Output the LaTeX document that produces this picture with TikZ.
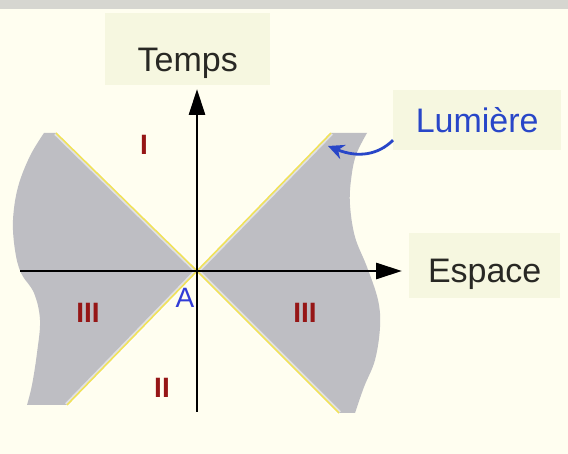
\documentclass[tikz,border=0pt]{standalone}
\usepackage{fontspec}
\setmainfont{Liberation Sans}
\usetikzlibrary{arrows.meta}
\definecolor{bgcream}{RGB}{255,254,240}
\definecolor{topbar}{RGB}{214,214,208}
\definecolor{boxtint}{RGB}{246,247,224}
\definecolor{winggrey}{RGB}{190,190,195}
\definecolor{edgeyellow}{RGB}{240,226,90}
\definecolor{textdark}{RGB}{40,40,36}
\definecolor{lumblue}{RGB}{40,70,200}
\definecolor{ablue}{RGB}{50,60,215}
\definecolor{numred}{RGB}{150,22,22}

\begin{document}
\begin{tikzpicture}[
    x=1pt, y=-1pt,
    labelbox/.style={fill=boxtint, inner xsep=0pt, inner ysep=0pt, anchor=north west,
        font=\fontsize{34}{40}\selectfont},
    numstyle/.style={text=numred, inner sep=0pt, font=\fontsize{28}{32}\selectfont\bfseries},
    wing/.style={fill=winggrey},
    glowedge/.style={draw=white, line width=5pt, opacity=0.55},
    lightedge/.style={draw=edgeyellow, line width=1.6pt},
    axisline/.style={draw=black, line width=2.8pt, -{Triangle[length=26pt, width=16pt]}},
    lumarrow/.style={draw=lumblue, line width=2.8pt, -{Stealth[length=16pt, width=15pt]}}
  ]
    \useasboundingbox (0,0) rectangle (568,454);
    \fill[bgcream] (0,0) rectangle (568,454);
    \fill[topbar] (0,0) rectangle (568,9);

    % origin, axis ends and cone corners
    \coordinate (A) at (197,271);
    \coordinate (xl) at (20,271);
    \coordinate (xr) at (402,271);
    \coordinate (yb) at (197,412);
    \coordinate (yt) at (197,89);
    \coordinate (wlt) at (56,133);
    \coordinate (wlb) at (67,405);
    \coordinate (wrt) at (331,133);
    \coordinate (wrb) at (339,413);
    \coordinate (lumtip) at (328,146);

    % grey regions outside the light cone
    \fill[wing] (A) -- (wlt) -- plot[smooth, tension=0.6] coordinates {(44,133) (30,156) (18,187)
        (13,220) (15,250) (21,273) (34,293) (40,320) (37,353) (32,385) (27,405)} -- (wlb) -- cycle;
    \fill[wing] (A) -- (wrt) -- plot[smooth, tension=0.6] coordinates {(367,133) (356,155) (351,180)
        (350,205) (355,237) (367,267) (378,300) (380,327) (375,360) (364,387) (355,413)} -- (wrb) -- cycle;

    % light cone edges
    \draw[glowedge] (wlt) -- (A) -- (wrb);
    \draw[glowedge] (wlb) -- (A) -- (wrt);
    \draw[lightedge] (wlt) -- (A) -- (wrb);
    \draw[lightedge] (wlb) -- (A) -- (wrt);

    \draw[axisline] (xl) -- (xr);
    \draw[axisline] (yb) -- (yt);

    \node[labelbox, minimum width=165pt, text height=58pt, text depth=14pt, text=textdark]
        (temps) at (105,13) {Temps};
    \node[labelbox, minimum width=151pt, text height=49pt, text depth=16pt, text=textdark]
        (espace) at (409,233) {Espace};
    \node[labelbox, minimum width=168pt, text height=42pt, text depth=18pt, text=lumblue]
        (lum) at (393,90) {Lumière};
    \draw[lumarrow] ([yshift=-20pt]lum.west) .. controls (378,155) and (358,158) .. (lumtip);

    \node[numstyle] (regI) at (144,145) {I};
    \node[numstyle] (regIIIl) at (88,313) {III};
    \node[numstyle] (regIIIr) at (305,313) {III};
    \node[numstyle] (regII) at (162,388) {II};
    \node[text=ablue, inner sep=0pt, font=\fontsize{28}{32}\selectfont] (ptA) at (185,298) {A};
  \end{tikzpicture}
\end{document}
